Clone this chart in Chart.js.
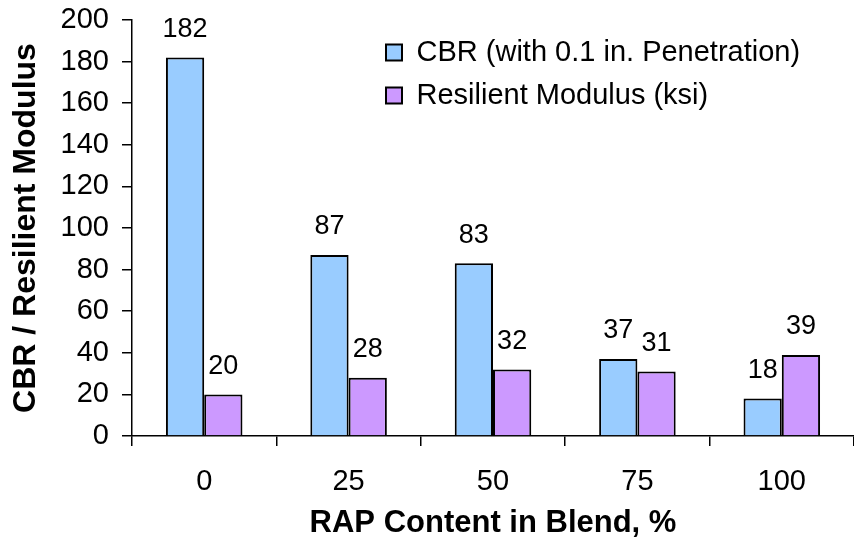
<!DOCTYPE html>
<html>
<head>
<meta charset="utf-8">
<style>
  html, body { margin: 0; padding: 0; background: #fff; }
  #chart { display: block; }
</style>
<script src="https://cdn.jsdelivr.net/npm/chart.js@4/dist/chart.umd.min.js"></script>
</head>
<body>
<canvas id="chart" width="854" height="548"></canvas>
<script>
/* DATA */
const rapContent = ['0', '25', '50', '75', '100'];
const cbrValues = [182, 87, 83, 37, 18];
const modulusValues = [20, 28, 32, 31, 39];
const yTicks = [0, 20, 40, 60, 80, 100, 120, 140, 160, 180, 200];

const FONT = '"Liberation Sans", Arial, sans-serif';
Chart.defaults.font.family = FONT;
Chart.defaults.color = '#000';

// numbers above each bar
const valueLabels = {
  id: 'valueLabels',
  afterDatasetsDraw(chart) {
    const ctx = chart.ctx;
    ctx.save();
    ctx.font = '27px ' + FONT;
    ctx.fillStyle = '#000';
    ctx.textAlign = 'center';
    ctx.textBaseline = 'middle';
    chart.data.datasets.forEach(function(ds, i) {
      chart.getDatasetMeta(i).data.forEach(function(bar, j) {
        ctx.fillText(String(ds.data[j]), bar.x, bar.y - 28);
      });
    });
    ctx.restore();
  }
};

// move the legend to the upper right of the plot
const legendInside = {
  id: 'legendInside',
  afterLayout(chart) {
    const lg = chart.legend;
    const w = lg.width;
    const h = lg.height;
    lg.left = 372;
    lg.right = 372 + w;
    lg.top = 24;
    lg.bottom = 24 + h;
  }
};

const ctx = document.getElementById('chart').getContext('2d');
const chart = new Chart(ctx, {
  type: 'bar',
  data: {
    labels: rapContent,
    datasets: [{
      label: 'CBR (with 0.1 in. Penetration)',
      data: cbrValues,
      backgroundColor: '#99CCFF',
      borderColor: '#000',
      borderWidth: 2,
      categoryPercentage: 0.53,
      barPercentage: 1,
    },
    {
      label: 'Resilient Modulus (ksi)',
      data: modulusValues,
      backgroundColor: '#CC99FF',
      borderColor: '#000',
      borderWidth: 2,
      categoryPercentage: 0.53,
      barPercentage: 1,
    }]
  },
  options: {
    responsive: false,
    animation: false,
    devicePixelRatio: 1,
    layout: { padding: { top: 20, right: 0, bottom: 0, left: 0 } },
    plugins: {
      tooltip: { enabled: false },
      legend: {
        position: 'chartArea',
        align: 'start',
        labels: {
          boxWidth: 16,
          boxHeight: 16,
          padding: 14,
          color: '#000',
          font: { size: 29 },
        }
      }
    },
    scales: {
      x: {
        grid: { display: true, drawOnChartArea: false, tickLength: 10, color: '#000', lineWidth: 1.5 },
        border: { display: true, color: '#000', width: 1.5 },
        ticks: { padding: 19, font: { size: 29 }, color: '#000', maxRotation: 0 },
        title: { display: true, text: 'RAP Content in Blend, %', font: { size: 31, weight: 'bold' }, color: '#000', padding: { top: 0, bottom: 6 } },
        afterFit: function(s) { s.height = 112; }
      },
      y: {
        min: 0,
        max: 200,
        afterBuildTicks: function(s) { s.ticks = yTicks.map(function(v) { return { value: v }; }); },
        grid: { display: true, drawOnChartArea: false, tickLength: 10, color: '#000', lineWidth: 1.5 },
        border: { display: true, color: '#000', width: 1.5 },
        ticks: { padding: 13, font: { size: 29 }, color: '#000' },
        title: { display: true, text: 'CBR / Resilient Modulus', font: { size: 32, weight: 'bold' }, color: '#000', padding: { top: 7, bottom: 0 } },
        afterFit: function(s) {
          s.width = 132;
          s.paddingTop = 0;
          s.paddingBottom = 0;
        }
      }
    }
  },
  plugins: [valueLabels, legendInside]
});

console.log(chart);
</script>
</body>
</html>
